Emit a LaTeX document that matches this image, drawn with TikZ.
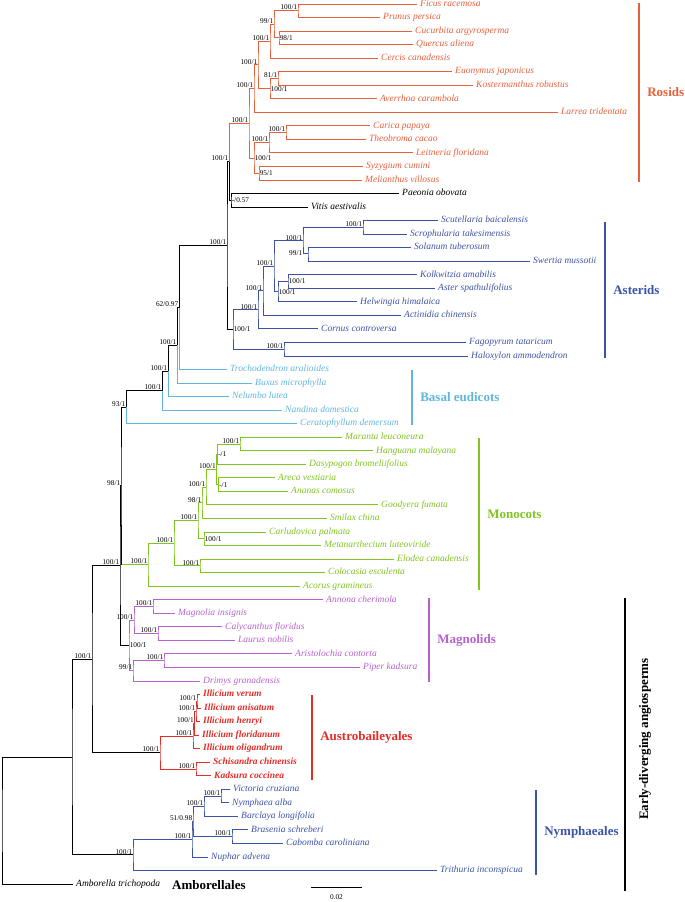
\documentclass[tikz,border=0pt]{standalone}
\usepackage{fontspec}
\setmainfont{Liberation Serif}
\usetikzlibrary{positioning}
\definecolor{rosid}{RGB}{232,96,58}
\definecolor{asterid}{RGB}{62,82,165}
\definecolor{basal}{RGB}{96,182,222}
\definecolor{monocot}{RGB}{128,196,32}
\definecolor{magnolid}{RGB}{182,98,204}
\definecolor{austro}{RGB}{226,44,38}
\definecolor{nymph}{RGB}{58,84,166}
\newcommand{\leaffnt}{\fontsize{9.5}{11}\selectfont\itshape}
\newcommand{\supfnt}{\fontsize{7.3}{8}\selectfont}
\newcommand{\cladefnt}{\fontsize{13}{15}\selectfont\bfseries}
\tikzset{
  branch/.style={line width=1pt},
  leaf/.style={anchor=west, inner xsep=3pt, inner ysep=0pt,
               text height=6.5pt, text depth=2pt, font=\leaffnt},
  austroleaf/.style={leaf, font=\leaffnt\bfseries, text=austro},
  sup/.style={font=\supfnt, inner sep=0.6pt},
  cladebar/.style={line width=2.6pt},
  cladelbl/.style={anchor=west, inner sep=0pt, font=\cladefnt},
}

\begin{document}
\begin{tikzpicture}[x=1pt, y=-1pt]

  \useasboundingbox (0,0) rectangle (685,902);

  %% Leaves: rosids + Paeonia / Vitis
  \node[leaf, text=rosid] (ficus)      at (417,4.00)   {Ficus racemosa};
  \node[leaf, text=rosid] (prunus)     at (380,17.54)  {Prunus persica};
  \node[leaf, text=rosid] (cucurbita)  at (412,31.08)  {Cucurbita argyrosperma};
  \node[leaf, text=rosid] (quercus)    at (413,44.62)  {Quercus aliena};
  \node[leaf, text=rosid] (cercis)     at (378,58.16)  {Cercis canadensis};
  \node[leaf, text=rosid] (euonymus)   at (452,71.70)  {Euonymus japonicus};
  \node[leaf, text=rosid] (kosterm)    at (473,85.24)  {Kostermanthus robustus};
  \node[leaf, text=rosid] (averrhoa)   at (377,98.78)  {Averrhoa carambola};
  \node[leaf, text=rosid] (larrea)     at (558,112.32) {Larrea tridentata};
  \node[leaf, text=rosid] (carica)     at (370,125.86) {Carica papaya};
  \node[leaf, text=rosid] (theobroma)  at (366,139.40) {Theobroma cacao};
  \node[leaf, text=rosid] (leitneria)  at (413,152.94) {Leitneria floridana};
  \node[leaf, text=rosid] (syzygium)   at (363,166.48) {Syzygium cumini};
  \node[leaf, text=rosid] (melianthus) at (362,180.02) {Melianthus villosus};
  \node[leaf] (paeonia) at (399,193.56) {Paeonia obovata};
  \node[leaf] (vitis)   at (308,207.10) {Vitis aestivalis};

  %% Leaves: asterids
  \node[leaf, text=asterid] (scutellaria)  at (438,220.64) {Scutellaria baicalensis};
  \node[leaf, text=asterid] (scrophularia) at (407,234.18) {Scrophularia takesimensis};
  \node[leaf, text=asterid] (solanum)      at (411,247.72) {Solanum tuberosum};
  \node[leaf, text=asterid] (swertia)      at (530,261.26) {Swertia mussotii};
  \node[leaf, text=asterid] (kolkwitzia)   at (417,274.80) {Kolkwitzia amabilis};
  \node[leaf, text=asterid] (aster)        at (435,288.34) {Aster spathulifolius};
  \node[leaf, text=asterid] (helwingia)    at (357,301.88) {Helwingia himalaica};
  \node[leaf, text=asterid] (actinidia)    at (401,315.42) {Actinidia chinensis};
  \node[leaf, text=asterid] (cornus)       at (318,328.96) {Cornus controversa};
  \node[leaf, text=asterid] (fagopyrum)    at (466,342.50) {Fagopyrum tataricum};
  \node[leaf, text=asterid] (haloxylon)    at (468,356.04) {Haloxylon ammodendron};

  %% Leaves: basal eudicots
  \node[leaf, text=basal] (trochodendron) at (227,369.58) {Trochodendron aralioides};
  \node[leaf, text=basal] (buxus)         at (252,383.12) {Buxus microphylla};
  \node[leaf, text=basal] (nelumbo)       at (229,396.66) {Nelumbo lutea};
  \node[leaf, text=basal] (nandina)       at (282,410.20) {Nandina domestica};
  \node[leaf, text=basal] (ceratophyllum) at (297,423.74) {Ceratophyllum demersum};

  %% Leaves: monocots
  \node[leaf, text=monocot] (maranta)        at (342,437.28) {Maranta leuconeura};
  \node[leaf, text=monocot] (hanguana)       at (373,450.82) {Hanguana malayana};
  \node[leaf, text=monocot] (dasypogon)      at (306,464.36) {Dasypogon bromeliifolius};
  \node[leaf, text=monocot] (areca)          at (275,477.90) {Areca vestiaria};
  \node[leaf, text=monocot] (ananas)         at (288,491.44) {Ananas comosus};
  \node[leaf, text=monocot] (goodyera)       at (378,504.98) {Goodyera fumata};
  \node[leaf, text=monocot] (smilax)         at (327,518.52) {Smilax china};
  \node[leaf, text=monocot] (carludovica)    at (266,532.06) {Carludovica palmata};
  \node[leaf, text=monocot] (metanarthecium) at (321,545.60) {Metanarthecium luteoviride};
  \node[leaf, text=monocot] (elodea)         at (394,559.14) {Elodea canadensis};
  \node[leaf, text=monocot] (colocasia)      at (325,572.68) {Colocasia esculenta};
  \node[leaf, text=monocot] (acorus)         at (300,586.22) {Acorus gramineus};

  %% Leaves: magnolids
  \node[leaf, text=magnolid] (annona)       at (323,599.76) {Annona cherimola};
  \node[leaf, text=magnolid] (magnolia)     at (175,613.30) {Magnolia insignis};
  \node[leaf, text=magnolid] (calycanthus)  at (222,626.84) {Calycanthus floridus};
  \node[leaf, text=magnolid] (laurus)       at (235,640.38) {Laurus nobilis};
  \node[leaf, text=magnolid] (aristolochia) at (292,653.92) {Aristolochia contorta};
  \node[leaf, text=magnolid] (piper)        at (360,667.46) {Piper kadsura};
  \node[leaf, text=magnolid] (drimys)       at (200,681.00) {Drimys granadensis};

  %% Leaves: Austrobaileyales
  \node[austroleaf] (verum)      at (200,694.54) {Illicium verum};
  \node[austroleaf] (anisatum)   at (201,708.08) {Illicium anisatum};
  \node[austroleaf] (henryi)     at (200,721.62) {Illicium henryi};
  \node[austroleaf] (floridanum) at (199,735.16) {Illicium floridanum};
  \node[austroleaf] (oligandrum) at (200,748.70) {Illicium oligandrum};
  \node[austroleaf] (schisandra) at (210,762.24) {Schisandra chinensis};
  \node[austroleaf] (kadsura)    at (211,775.78) {Kadsura coccinea};

  %% Leaves: Nymphaeales + Amborella
  \node[leaf, text=nymph] (victoria)  at (230,789.32) {Victoria cruziana};
  \node[leaf, text=nymph] (nymphaea)  at (229,802.86) {Nymphaea alba};
  \node[leaf, text=nymph] (barclaya)  at (238,816.40) {Barclaya longifolia};
  \node[leaf, text=nymph] (brasenia)  at (248,829.94) {Brasenia schreberi};
  \node[leaf, text=nymph] (cabomba)   at (283,843.48) {Cabomba caroliniana};
  \node[leaf, text=nymph] (nuphar)    at (208,857.02) {Nuphar advena};
  \node[leaf, text=nymph] (trithuria) at (437,870.56) {Trithuria inconspicua};
  \node[leaf] (amborella) at (73,884.10) {Amborella trichopoda};

  %% Internal nodes: rosids
  \coordinate[label={[sup]above left:100/1}] (rFP)   at (298,10.77);
  \coordinate[label={[sup]right:98/1}]       (rCQ)   at (279,37.85);
  \coordinate[label={[sup]above left:99/1}]  (rFPCQ) at (274,24.31);
  \coordinate[label={[sup]above left:100/1}] (rCer)  at (270,41.24);
  \coordinate[label={[sup]above left:81/1}]  (rEK)   at (278,78.47);
  \coordinate[label={[sup]right:100/1}]      (rEKA)  at (270,88.63);
  \coordinate[label={[sup]above left:100/1}] (rA)    at (258,64.93);
  \coordinate[label={[sup]above left:100/1}] (rLar)  at (254,88.63);
  \coordinate[label={[sup]above left:100/1}] (rCT)   at (286,132.63);
  \coordinate[label={[sup]above left:100/1}] (rCTL)  at (269,142.79);
  \coordinate[label={[sup]right:95/1}]       (rSM)   at (259,173.25);
  \coordinate[label={[sup]right:100/1}]      (rB)    at (254,158.02);
  \coordinate[label={[sup]above left:100/1}] (rRoot) at (249,123.32);
  \coordinate[label={[sup]right:-/0.57}]     (cPV)   at (231,200.33);
  \coordinate[label={[sup]above left:100/1}] (cK)    at (229,161.83);

  %% Internal nodes: asterids
  \coordinate[label={[sup]above left:100/1}]       (aSS)   at (363,227.41);
  \coordinate[label={[sup,xshift=-5pt]left:99/1}]  (aSW)   at (308,253.49);
  \coordinate[label={[sup]above left:100/1}]       (aSSSW) at (303,240.95);
  \coordinate[label={[sup]right:100/1}]            (aKA)   at (288,281.57);
  \coordinate[label={[sup]right:100/1}]            (aKAH)  at (278,291.73);
  \coordinate[label={[sup]above left:100/1}]       (aX)    at (274,266.34);
  \coordinate[label={[sup]above left:100/1}]       (aAct)  at (263,290.88);
  \coordinate[label={[sup]above left:100/1}]       (aCor)  at (258,309.92);
  \coordinate[label={[sup]above left:100/1}]       (aFH)   at (284,349.27);
  \coordinate[label={[sup]right:100/1}]            (aRoot) at (233,329.60);
  \coordinate[label={[sup]above left:100/1}]       (cCore) at (227,245.71);

  %% Internal nodes: basal eudicots
  \coordinate[label={[sup]above left:62/0.97}] (bA) at (179,307.65);
  \coordinate[label={[sup]above left:100/1}]   (bB) at (177,345.38);
  \coordinate[label={[sup]above left:100/1}]   (bC) at (168,371.02);
  \coordinate[label={[sup]above left:100/1}]   (bD) at (162,390.61);
  \coordinate[label={[sup]above left:93/1}]    (bE) at (126,407.18);

  %% Internal nodes: monocots
  \coordinate[label={[sup]above left:100/1}] (mMH)   at (240,444.05);
  \coordinate[label={[sup]right:-/1}]        (mMHD)  at (217.5,454.21);
  \coordinate[label={[sup]right:-/1}]        (mAA)   at (218.5,484.67);
  \coordinate[label={[sup]above left:100/1}] (mX)    at (216.5,469.44);
  \coordinate[label={[sup]above left:100/1}] (mGood) at (206,487.21);
  \coordinate[label={[sup]above left:98/1}]  (mSmi)  at (202,502.87);
  \coordinate[label={[sup]right:100/1}]      (mCM)   at (204,538.83);
  \coordinate[label={[sup]above left:100/1}] (mY)    at (198,520.85);
  \coordinate[label={[sup]above left:100/1}] (mEC)   at (200,565.91);
  \coordinate[label={[sup]above left:100/1}] (mZ)    at (174,543.38);
  \coordinate[label={[sup]above left:100/1}] (mRoot) at (148,564.80);
  \coordinate[label={[sup]above left:98/1}]  (cG)    at (121,485.99);

  %% Internal nodes: magnolids
  \coordinate[label={[sup]above left:100/1}] (gAM)   at (153,606.53);
  \coordinate[label={[sup]above left:100/1}] (gCL)   at (158,633.61);
  \coordinate[label={[sup]above left:100/1}] (gAMCL) at (134,620.07);
  \coordinate[label={[sup]above left:100/1}] (gAP)   at (164,660.69);
  \coordinate[label={[sup]above left:99/1}]  (gAPD)  at (133,670.85);
  \coordinate[label={[sup]right:100/1}]      (gRoot) at (129,645.46);
  \coordinate[label={[sup]above left:100/1}] (cI)    at (120,565.73);

  %% Internal nodes: Austrobaileyales
  \coordinate[label={[sup]above left:100/1}] (sVA)   at (197,701.31);
  \coordinate[label={[sup]above left:100/1}] (sVAH)  at (196,711.47);
  \coordinate[label={[sup]above left:100/1}] (sVAHF) at (194.5,723.31);
  \coordinate[label={[sup]above left:100/1}] (sIll)  at (193,736.01);
  \coordinate[label={[sup]above left:100/1}] (sSK)   at (196,769.01);
  \coordinate[label={[sup]above left:100/1}] (sRoot) at (160,752.51);
  \coordinate[label={[sup]above left:100/1}] (cH)    at (92,659.12);

  %% Internal nodes: Nymphaeales, root
  \coordinate[label={[sup]above left:100/1}]   (nVN)   at (221,796.09);
  \coordinate[label={[sup]above left:100/1}]   (nVNB)  at (204,806.25);
  \coordinate[label={[sup]above left:100/1}]   (nBC)   at (232,836.71);
  \coordinate[label={[sup]above left:51/0.98}] (nX)    at (193,821.48);
  \coordinate[label={[sup]above left:100/1}]   (nNu)   at (192,839.25);
  \coordinate[label={[sup]above left:100/1}]   (nRoot) at (133,854.91);
  \coordinate (cJ)    at (72,757.01);
  \coordinate (cRoot) at (2,820.56);

  %% Branches: rosids
  \begin{scope}[branch, draw=rosid]
    \draw (ficus.west) -| (rFP) |- (prunus.west);
    \draw (cucurbita.west) -| (rCQ) |- (quercus.west);
    \draw (rFP) -| (rFPCQ) |- (rCQ);
    \draw (rFPCQ) -| (rCer) |- (cercis.west);
    \draw (euonymus.west) -| (rEK) |- (kosterm.west);
    \draw (rEK) -| (rEKA) |- (averrhoa.west);
    \draw (rCer) -| (rA) |- (rEKA);
    \draw (rA) -| (rLar) |- (larrea.west);
    \draw (carica.west) -| (rCT) |- (theobroma.west);
    \draw (rCT) -| (rCTL) |- (leitneria.west);
    \draw (syzygium.west) -| (rSM) |- (melianthus.west);
    \draw (rCTL) -| (rB) |- (rSM);
    \draw (rLar) -| (rRoot) |- (rB);
    \draw (rRoot) -| (cK);
  \end{scope}
  \draw[branch] (cK) |- (cPV);
  \draw[branch] (paeonia.west) -| (cPV) |- (vitis.west);

  %% Branches: asterids
  \begin{scope}[branch, draw=asterid]
    \draw (scutellaria.west) -| (aSS) |- (scrophularia.west);
    \draw (solanum.west) -| (aSW) |- (swertia.west);
    \draw (aSS) -| (aSSSW) |- (aSW);
    \draw (kolkwitzia.west) -| (aKA) |- (aster.west);
    \draw (aKA) -| (aKAH) |- (helwingia.west);
    \draw (aSSSW) -| (aX) |- (aKAH);
    \draw (aX) -| (aAct) |- (actinidia.west);
    \draw (aAct) -| (aCor) |- (cornus.west);
    \draw (fagopyrum.west) -| (aFH) |- (haloxylon.west);
    \draw (aCor) -| (aRoot) |- (aFH);
  \end{scope}
  \draw[branch] (cK) -| (cCore) |- (aRoot);

  %% Branches: basal eudicots
  \draw[branch] (cCore) -| (bA) -| (bB) -| (bC) -| (bD) -| (bE);
  \begin{scope}[branch, draw=basal]
    \draw (bA) |- (trochodendron.west);
    \draw (bB) |- (buxus.west);
    \draw (bC) |- (nelumbo.west);
    \draw (bD) |- (nandina.west);
    \draw (bE) |- (ceratophyllum.west);
  \end{scope}

  %% Branches: monocots
  \begin{scope}[branch, draw=monocot]
    \draw (maranta.west) -| (mMH) |- (hanguana.west);
    \draw (mMH) -| (mMHD) |- (dasypogon.west);
    \draw (areca.west) -| (mAA) |- (ananas.west);
    \draw (mMHD) -| (mX) |- (mAA);
    \draw (mX) -| (mGood) |- (goodyera.west);
    \draw (mGood) -| (mSmi) |- (smilax.west);
    \draw (carludovica.west) -| (mCM) |- (metanarthecium.west);
    \draw (mSmi) -| (mY) |- (mCM);
    \draw (elodea.west) -| (mEC) |- (colocasia.west);
    \draw (mY) -| (mZ) |- (mEC);
    \draw (mZ) -| (mRoot) |- (acorus.west);
    \draw (cG |- mRoot) -- (mRoot);
  \end{scope}
  \draw[branch] (bE) -| (cG) -- (cG |- mRoot);

  %% Branches: magnolids
  \begin{scope}[branch, draw=magnolid]
    \draw (annona.west) -| (gAM) |- (magnolia.west);
    \draw (calycanthus.west) -| (gCL) |- (laurus.west);
    \draw (gAM) -| (gAMCL) |- (gCL);
    \draw (aristolochia.west) -| (gAP) |- (piper.west);
    \draw (gAP) -| (gAPD) |- (drimys.west);
    \draw (gAMCL) -| (gRoot) |- (gAPD);
  \end{scope}
  \draw[branch] (cG) -| (cI) |- (gRoot);

  %% Branches: Austrobaileyales
  \begin{scope}[branch, draw=austro]
    \draw (verum.west) -| (sVA) |- (anisatum.west);
    \draw (sVA) -| (sVAH) |- (henryi.west);
    \draw (sVAH) -| (sVAHF) |- (floridanum.west);
    \draw (sVAHF) -| (sIll) |- (oligandrum.west);
    \draw (schisandra.west) -| (sSK) |- (kadsura.west);
    \draw (sIll) -| (sRoot) |- (sSK);
  \end{scope}
  \draw[branch] (cI) -| (cH) |- (sRoot);

  %% Branches: Nymphaeales, root
  \begin{scope}[branch, draw=nymph]
    \draw (victoria.west) -| (nVN) |- (nymphaea.west);
    \draw (nVN) -| (nVNB) |- (barclaya.west);
    \draw (brasenia.west) -| (nBC) |- (cabomba.west);
    \draw (nVNB) -| (nX) |- (nBC);
    \draw (nX) -| (nNu) |- (nuphar.west);
    \draw (nNu) -| (nRoot) |- (trithuria.west);
  \end{scope}
  \draw[branch] (cH) -| (cJ) |- (nRoot);
  \draw[branch] (cJ) -| (cRoot) |- (amborella.west);

  %% Clade bars and names
  \draw[cladebar, rosid] (639,3) -- (639,182)
    node[midway, right=7pt, cladelbl, text=rosid] (rosidlbl) {Rosids};
  \draw[cladebar, asterid] (605,222) -- (605,358)
    node[midway, right=7pt, cladelbl, text=asterid] (asteridlbl) {Asterids};
  \draw[cladebar, basal] (412,370) -- (412,425)
    node[midway, right=7pt, cladelbl, text=basal] (basallbl) {Basal eudicots};
  \draw[cladebar, monocot] (479,438) -- (479,590)
    node[midway, right=7pt, cladelbl, text=monocot] (monolbl) {Monocots};
  \draw[cladebar, magnolid] (429,598) -- (429,682)
    node[midway, right=7pt, cladelbl, text=magnolid] (magnolbl) {Magnolids};
  \draw[cladebar, austro] (312,695) -- (312,780)
    node[midway, right=7pt, cladelbl, text=austro] (austrolbl) {Austrobaileyales};
  \draw[cladebar, nymph] (536,790) -- (536,875)
    node[midway, right=7pt, cladelbl, text=nymph] (nymphlbl) {Nymphaeales};
  \draw[cladebar] (625,598) -- (625,891);
  \node[cladelbl, rotate=90, anchor=north] (earlylbl) at (639,739)
    {Early-diverging angiosperms};
  \node[cladelbl] (amborlbl) at (172,885) {Amborellales};

  %% Scale bar
  \coordinate (sbL) at (311,887);
  \coordinate (sbR) at (362,887);
  \draw[line width=1pt] (sbL) -- node[sup, below=7pt] (sblbl) {0.02} (sbR);

\end{tikzpicture}
\end{document}
